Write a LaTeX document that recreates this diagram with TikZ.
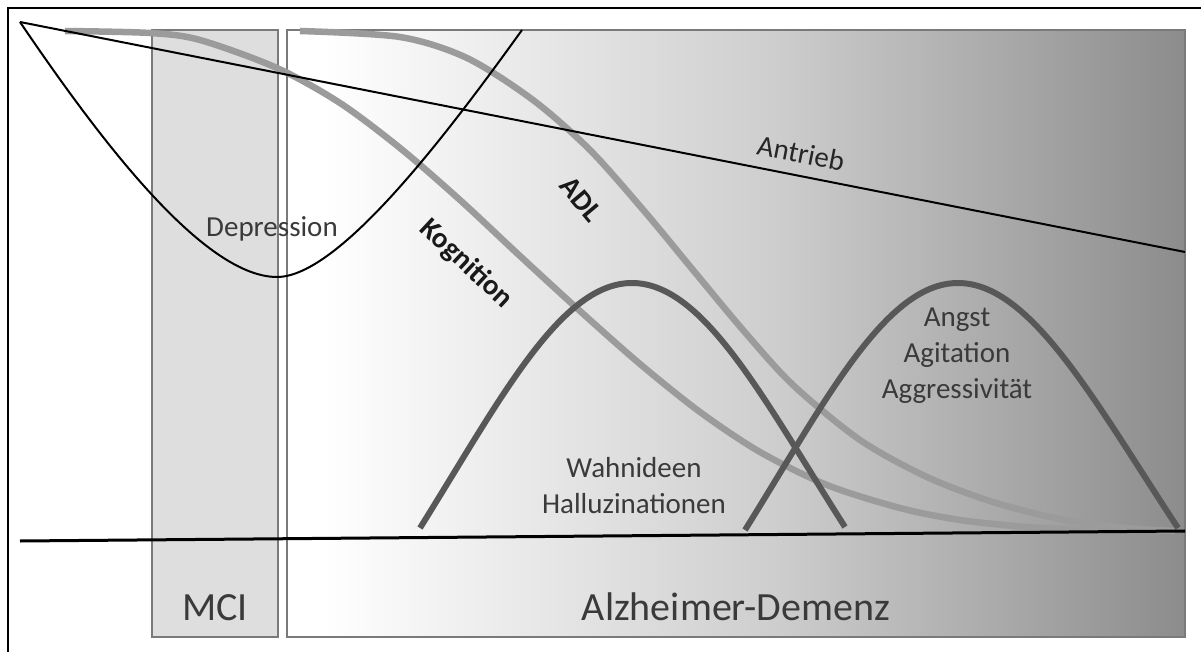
\documentclass[tikz,border=0pt]{standalone}
\usepackage{fontspec}
\setmainfont{Carlito}
\usepackage{tikz}
\usetikzlibrary{calc,positioning}
\definecolor{mciFill}{RGB}{222,222,222}
\definecolor{boxEdge}{RGB}{122,122,122}
\definecolor{alzMid}{RGB}{206,206,206}
\definecolor{alzDark}{RGB}{140,140,140}
\definecolor{courseGray}{RGB}{155,155,155}
\definecolor{humpGray}{RGB}{88,88,88}
\definecolor{labelGray}{RGB}{58,58,58}
\pgfdeclarehorizontalshading{alzfade}{100bp}{color(0bp)=(white); color(25bp)=(white); color(27bp)=(white); color(52bp)=(alzMid); color(75bp)=(alzDark); color(100bp)=(alzDark)}

\begin{document}
\begin{tikzpicture}[x=1pt,y=-1pt,
    course/.style={courseGray, line width=6.5pt},
    hump/.style={humpGray, line width=6pt},
    lbl/.style={text=labelGray, font=\fontsize{29}{36}\selectfont, align=center, inner sep=0pt},
    phase/.style={text=labelGray, font=\fontsize{40}{44}\selectfont, inner sep=0pt, anchor=base}]
    \useasboundingbox (0,0) rectangle (1201,652);

    % frame
    \draw[black, line width=2pt] (8,652) -- (8,8) -- (1201,8);

    % phases
    \draw[boxEdge, line width=1.5pt, fill=mciFill] (152,30) rectangle (278,637);
    \shadedraw[shading=alzfade, draw=boxEdge, line width=1.5pt] (287,30) rectangle (1185,637);

    % Kognition and ADL
    \draw[course] plot[smooth] coordinates {(65,31) (150,33) (200,40) (277,68) (340,103) (400,148)
        (460,200) (520,256) (580,311) (640,364) (700,412) (760,452) (827,485) (900,508) (960,520) (1027,527) (1100,531)};
    \draw[course] plot[smooth] coordinates {(300,31) (400,37) (467,58) (533,100) (590,150) (645,212)
        (693,270) (743,330) (793,385) (860,440) (927,477) (993,502) (1060,519) (1127,528) (1175,531)};

    % symptom humps
    \draw[hump] (420,528) .. controls (500,400) and (560,283) .. (632,283)
        .. controls (704,283) and (764,400) .. (845,527);
    \draw[hump] (745,530) .. controls (825,402) and (885,283) .. (958,283)
        .. controls (1031,283) and (1095,402) .. (1178,528);

    % Antrieb, Depression, time axis
    \draw[black, line width=2pt] (20,22) -- (1185,252);
    \draw[black, line width=2pt] (20,22) .. controls (90,125) and (200,277) .. (277,277)
        .. controls (340,277) and (450,130) .. (522,30);
    \draw[black, line width=3pt] (20,541) -- (1185,531);

    % labels
    \node[lbl] (depr) at (272,229) {Depression};
    \node[lbl, text=black!85, rotate=-11] (antr) at (801,153) {Antrieb};
    \node[lbl, text=black!90, font=\fontsize{29}{36}\selectfont\bfseries, rotate=-43] (kogn) at (466,264) {Kognition};
    \node[lbl, text=black!90, font=\fontsize{29}{36}\selectfont\bfseries, rotate=-50] (adl) at (581,199) {ADL};
    \node[lbl] (wahn) at (634,486) {Wahnideen\\Halluzinationen};
    \node[lbl] (angst) at (957,356) {Angst\\Agitation\\Aggressivität};
    \node[phase] (mci) at (215,620) {MCI};
    \node[phase] (alz) at (736,620) {Alzheimer-Demenz};
\end{tikzpicture}
\end{document}
